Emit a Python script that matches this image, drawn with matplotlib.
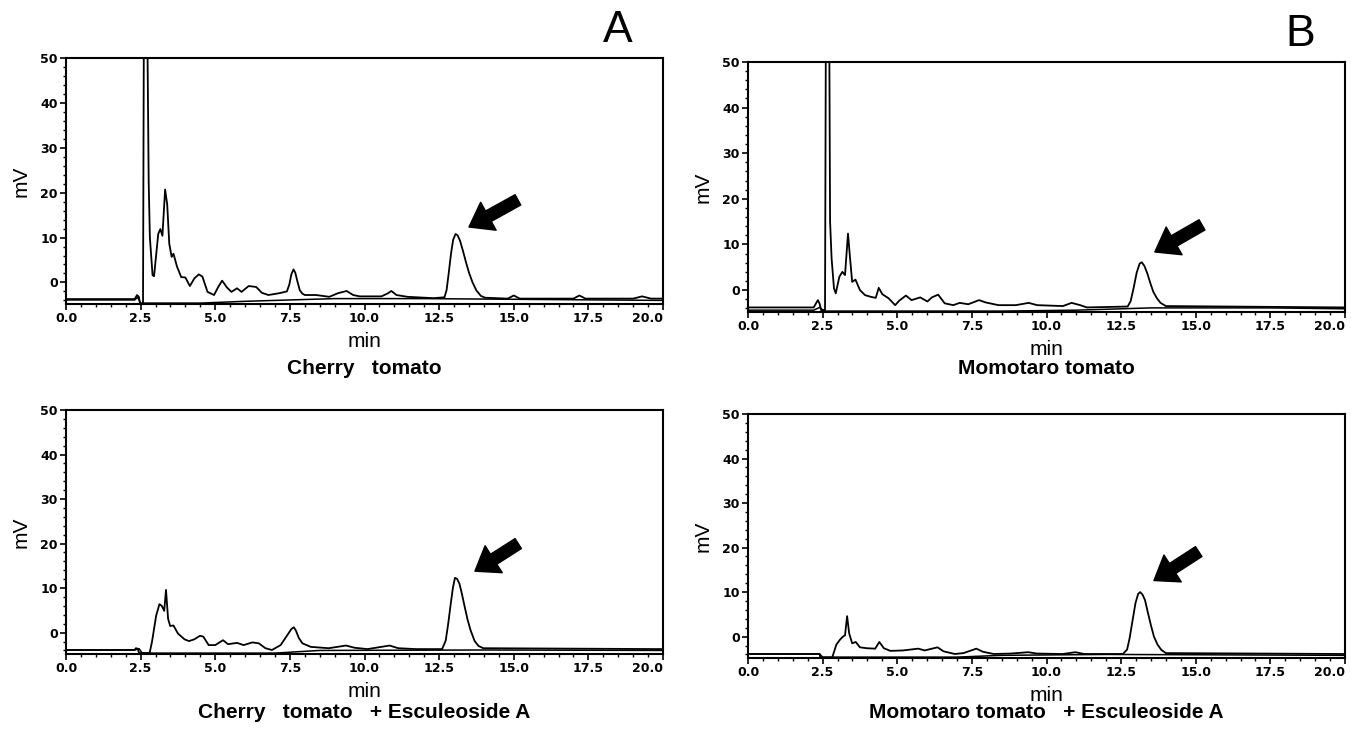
import numpy as np
import matplotlib
matplotlib.use("Agg")
import matplotlib.pyplot as plt
from matplotlib.ticker import MultipleLocator

# === Data (time in min, signal in mV) ===
# Cherry tomato
cherry_t = [0.0, 2.30, 2.38, 2.44, 2.48, 2.58, 2.61, 2.72, 2.77, 2.81, 2.90, 2.95,
            3.09, 3.16, 3.23, 3.32, 3.39, 3.46, 3.54, 3.60, 3.72, 3.86, 4.00, 4.15,
            4.30, 4.45, 4.57, 4.74, 4.96, 5.10, 5.23, 5.39, 5.54, 5.73, 5.88, 6.12,
            6.37, 6.56, 6.78, 7.14, 7.40, 7.48, 7.55, 7.62, 7.68, 7.75, 7.83, 7.92,
            8.00, 8.38, 8.82, 9.11, 9.40, 9.62, 9.84, 10.57, 10.79, 10.90, 11.07,
            11.44, 12.32, 12.68, 12.75, 12.82, 12.90, 12.97, 13.05, 13.12, 13.20,
            13.30, 13.40, 13.50, 13.62, 13.75, 13.90, 14.04, 14.80, 15.00,
            15.20, 16.50, 17.00, 17.20, 17.40, 19.00, 19.30, 19.60, 20.0]
cherry_mv = [-3.7, -3.7, -2.8, -3.2, -4.7, -4.7, 60, 60, 22.5, 10.0, 1.6, 1.4,
             10.8, 11.9, 10.4, 20.7, 17.4, 8.6, 5.7, 6.4, 3.5, 1.2, 1.1, -0.8,
             0.9, 1.8, 1.3, -2.1, -2.8, -1.0, 0.4, -1.1, -2.1, -1.3, -2.1, -0.8,
             -1.0, -2.3, -2.8, -2.4, -2.0, -0.5, 1.8, 2.9, 2.2, 0.3, -1.7, -2.5,
             -2.8, -2.8, -3.2, -2.4, -1.9, -2.8, -3.1, -3.1, -2.4, -1.9, -2.8,
             -3.2, -3.5, -3.3, -1.7, 2.0, 6.5, 9.5, 10.8, 10.5, 9.3,
             7.0, 4.5, 2.2, 0.0, -1.8, -3.0, -3.4, -3.6, -2.9,
             -3.6, -3.6, -3.6, -2.9, -3.6, -3.6, -3.1, -3.6, -3.6]
cherry_blank_t = [0.0, 2.30, 2.40, 2.50, 4.50, 6.00, 9.00, 12.0, 14.0, 20.0]
cherry_blank_mv = [-3.9, -3.9, -3.3, -4.6, -4.6, -4.2, -3.6, -3.6, -3.7, -4.0]

# Momotaro tomato
momo_t = [0.0, 2.20, 2.34, 2.40, 2.45, 2.58, 2.61, 2.72, 2.75, 2.80, 2.88, 2.94,
          3.06, 3.16, 3.25, 3.35, 3.42, 3.49, 3.60, 3.75, 3.92, 4.13, 4.28, 4.38,
          4.50, 4.71, 4.93, 5.07, 5.29, 5.48, 5.77, 6.01, 6.16, 6.37, 6.59, 6.88,
          7.09, 7.38, 7.74, 7.96, 8.39, 8.97, 9.40, 9.69, 10.55, 10.84, 11.13,
          11.35, 12.72, 12.82, 12.92, 13.02, 13.12, 13.19, 13.28, 13.38, 13.48,
          13.58, 13.70, 13.82, 14.00, 20.0]
momo_mv = [-3.8, -3.8, -2.2, -3.0, -4.4, -4.4, 60, 60, 15.0, 7.0, 0.4, -0.7,
           2.9, 4.0, 3.3, 12.4, 6.9, 1.8, 2.3, 0.0, -1.1, -1.5, -1.7, 0.5,
           -0.9, -1.8, -3.3, -2.3, -1.2, -2.2, -1.6, -2.5, -1.6, -1.0, -2.9, -3.3,
           -2.8, -3.1, -2.2, -2.7, -3.3, -3.3, -2.8, -3.3, -3.5, -2.8, -3.3,
           -3.8, -3.6, -2.4, 0.5, 3.8, 5.8, 6.1, 5.3, 3.6, 1.5,
           -0.4, -1.8, -2.8, -3.5, -3.8]
momo_blank_t = [0.0, 2.20, 2.40, 2.55, 8.50, 11.0, 13.5, 17.5, 20.0]
momo_blank_mv = [-4.4, -4.4, -3.8, -4.6, -4.6, -4.4, -3.9, -3.9, -4.1]

# Cherry tomato + Esculeoside A
cherry_esc_t = [0.0, 2.30, 2.34, 2.40, 2.45, 2.80, 2.88, 3.02, 3.13, 3.21, 3.29,
                3.35, 3.42, 3.49, 3.60, 3.75, 3.97, 4.12, 4.30, 4.49, 4.60, 4.78,
                5.00, 5.26, 5.43, 5.73, 5.95, 6.24, 6.46, 6.68, 6.90, 7.19, 7.45,
                7.55, 7.63, 7.70, 7.80, 7.92, 8.20, 8.80, 9.38, 9.67, 10.10, 10.84,
                11.13, 11.72, 12.60, 12.72, 12.80, 12.88, 12.96, 13.03, 13.10,
                13.18, 13.26, 13.35, 13.45, 13.55, 13.69, 13.82, 13.98, 20.0]
cherry_esc_mv = [-3.9, -3.9, -3.5, -3.6, -4.6, -4.6, -2.1, 3.8, 6.4, 6.0, 4.9,
                 9.6, 3.1, 1.5, 1.6, -0.2, -1.5, -1.9, -1.5, -0.7, -0.9, -2.8,
                 -2.8, -1.7, -2.6, -2.3, -2.8, -2.2, -2.4, -3.5, -3.9, -2.8, -0.2,
                 0.8, 1.2, 0.5, -1.2, -2.4, -3.2, -3.5, -2.9, -3.4, -3.7, -2.9,
                 -3.5, -3.7, -3.7, -1.8, 1.8, 6.0, 10.0, 12.3, 12.1,
                 11.0, 8.8, 6.0, 3.0, 0.6, -1.9, -3.0, -3.5, -3.7]
cherry_esc_blank_t = [0.0, 2.30, 2.45, 2.55, 7.00, 8.50, 14.0, 20.0]
cherry_esc_blank_mv = [-3.9, -3.9, -3.6, -4.6, -4.6, -4.0, -3.9, -4.0]

# Momotaro tomato + Esculeoside A
momo_esc_t = [0.0, 2.40, 2.42, 2.82, 2.96, 3.08, 3.18, 3.25, 3.32, 3.39, 3.49,
              3.61, 3.75, 3.97, 4.26, 4.40, 4.55, 4.77, 5.20, 5.70, 5.92, 6.35,
              6.55, 6.93, 7.22, 7.65, 7.87, 8.23, 8.80, 9.39, 9.68, 10.54,
              10.97, 11.26, 12.56, 12.70, 12.78, 12.88, 12.98, 13.07, 13.14,
              13.22, 13.30, 13.40, 13.50, 13.60, 13.72, 13.85, 14.00, 20.0]
momo_esc_mv = [-3.9, -3.9, -4.7, -4.7, -1.8, -0.7, 0.0, 0.3, 4.6, 0.7, -1.5,
               -1.2, -2.4, -2.6, -2.7, -1.2, -2.6, -3.2, -3.1, -2.7, -3.1, -2.4,
               -3.3, -3.9, -3.7, -2.7, -3.4, -3.9, -3.8, -3.5, -3.8, -3.9,
               -3.5, -3.9, -3.9, -2.9, -0.5, 3.5, 7.5, 9.6, 10.0,
               9.4, 8.2, 5.3, 2.5, 0.0, -1.8, -3.0, -3.7, -3.9]
momo_esc_blank_t = [0.0, 2.40, 2.50, 7.00, 8.50, 12.0, 20.0]
momo_esc_blank_mv = [-3.9, -3.9, -4.6, -4.6, -4.2, -4.0, -4.2]

panel_titles = ["Cherry   tomato", "Momotaro tomato",
                "Cherry   tomato   + Esculeoside A", "Momotaro tomato   + Esculeoside A"]
x_ticks = [0.0, 2.5, 5.0, 7.5, 10.0, 12.5, 15.0, 17.5, 20.0]
y_ticks = [0, 10, 20, 30, 40, 50]

# === Layout ===
W, H = 1351, 743
fig = plt.figure(figsize=(W / 100, H / 100), dpi=100)

def px_axes(left, top, right, bottom):
    return fig.add_axes([left / W, 1 - bottom / H, (right - left) / W, (bottom - top) / H])

panels = [
    # axes box (px), traces, arrow (tail, tip), title y (px)
    ((66, 58, 663, 304), (cherry_t, cherry_mv), (cherry_blank_t, cherry_blank_mv),
     ((15.14, 18.4), (13.5, 12.35)), 368),
    ((748, 62, 1345, 312), (momo_t, momo_mv), (momo_blank_t, momo_blank_mv),
     ((15.21, 14.3), (13.63, 8.36)), 368),
    ((66, 410, 663, 654), (cherry_esc_t, cherry_esc_mv), (cherry_esc_blank_t, cherry_esc_blank_mv),
     ((15.15, 20.0), (13.7, 13.8)), 712),
    ((748, 414, 1345, 658), (momo_esc_t, momo_esc_mv), (momo_esc_blank_t, momo_esc_blank_mv),
     ((15.1, 19.1), (13.6, 12.6)), 713),
]

tick_font = dict(family=["Liberation Sans Narrow", "DejaVu Sans"], weight="bold", size=9)

for (box, main, blank, arrow, title_y), title in zip(panels, panel_titles):
    ax = px_axes(*box)
    ax.plot(blank[0], blank[1], color="black", lw=1.1)
    ax.plot(main[0], main[1], color="black", lw=1.3)
    ax.set_xlim(0, 20)
    ax.set_ylim(-4.8, 50)
    ax.set_xticks(x_ticks)
    ax.set_xticklabels([f"{v:.1f}" for v in x_ticks], fontdict=tick_font)
    ax.get_xticklabels()[-1].set_ha("right")
    ax.set_yticks(y_ticks)
    ax.set_yticklabels([str(v) for v in y_ticks], fontdict=tick_font)
    ax.xaxis.set_minor_locator(MultipleLocator(0.5))
    ax.yaxis.set_minor_locator(MultipleLocator(2))
    ax.tick_params(which="major", direction="out", length=4, width=1.2, pad=2)
    ax.tick_params(which="minor", direction="out", length=2, width=1.0)
    for s in ax.spines.values():
        s.set_linewidth(1.5)
    ax.set_xlabel("min", fontsize=15, family="Liberation Sans", labelpad=5)
    ax.set_ylabel("mV", fontsize=15, family="Liberation Sans")
    ax.yaxis.set_label_coords(-0.06, 0.5)
    ax.annotate("", xy=arrow[1], xytext=arrow[0],
                arrowprops=dict(facecolor="black", edgecolor="black",
                                width=8.5, headwidth=23, headlength=16))
    fig.text((box[0] + box[2]) / 2 / W, 1 - title_y / H, title,
             ha="center", va="center", fontsize=15, fontweight="bold",
             family="Liberation Sans")

fig.text(618 / W, 1 - 31 / H, "A", ha="center", va="center", fontsize=32,
         family="Liberation Sans")
fig.text(1300 / W, 1 - 35 / H, "B", ha="center", va="center", fontsize=32,
         family="Liberation Sans")

fig.savefig("out.png", dpi=100)
